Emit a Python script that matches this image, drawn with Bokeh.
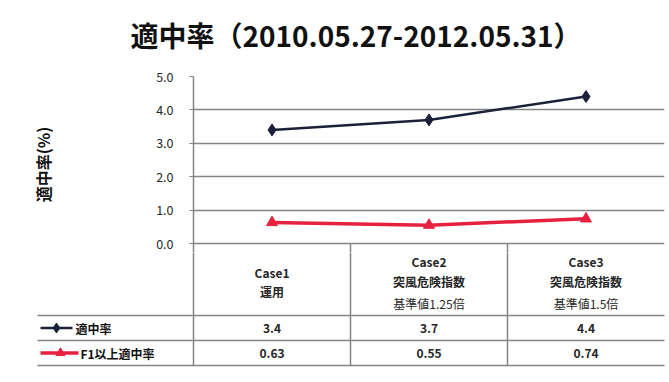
from bokeh.plotting import figure
from bokeh.models import Range1d, FixedTicker, ColumnDataSource
from bokeh.core.properties import value
from bokeh.embed import file_html
from bokeh.resources import INLINE

# ---- data ----
categories = ["Case1", "Case2", "Case3"]
header_line1 = ["Case1", "Case2", "Case3"]
header_line2 = ["運用", "突風危険指数", "突風危険指数"]
header_line3 = ["", "基準値1.25倍", "基準値1.5倍"]
series_names = ["適中率", "F1以上適中率"]
hit_rate = [3.4, 3.7, 4.4]
f1_hit_rate = [0.63, 0.55, 0.74]
y_ticks = [0, 1, 2, 3, 4, 5]
y_tick_labels = ["0.0", "1.0", "2.0", "3.0", "4.0", "5.0"]
title_text = "適中率（2010.05.27-2012.05.31）"
y_label = "適中率(%)"

FONT = "Noto Sans CJK JP"
NAVY = "#1c2038"
RED = "#e5213f"
GRID = "#858585"
TXT = "#262626"

ncat = len(categories)
xc = [i + 0.5 for i in range(ncat)]
px_per_y = 167 / 5.0
px_unit = 157.0
pad = 9         # px of chart below the 0 line
title_h = 56    # px band holding the title
x_full = Range1d(-193 / px_unit, ncat + 5 / px_unit)


def blank(fig):
    fig.outline_line_color = None
    fig.grid.visible = False
    fig.background_fill_color = "white"
    fig.border_fill_color = "white"


# ---- title band ----
tf = figure(width=669, height=title_h, output_backend="svg", toolbar_location=None,
            x_range=x_full, y_range=Range1d(title_h, 0),
            min_border_left=0, min_border_right=0, min_border_top=0, min_border_bottom=0,
            x_axis_location=None, y_axis_location=None)
blank(tf)
tf.text(x=[-63 / px_unit], y=[34], text=[title_text], text_font=value(FONT),
        text_font_size="28px", text_font_style="bold", text_align="left",
        text_baseline="middle", text_color="#111111")

# ---- chart ----
p = figure(width=669, height=243 - title_h + pad, output_backend="svg", toolbar_location=None,
           x_range=Range1d(0, ncat), y_range=Range1d(-pad / px_per_y, 5),
           min_border_left=193, min_border_right=5, min_border_top=76 - title_h,
           min_border_bottom=0, x_axis_location=None)
p.outline_line_color = None
p.background_fill_color = "white"
p.border_fill_color = "white"
p.xgrid.visible = False
p.ygrid.ticker = FixedTicker(ticks=y_ticks)
p.ygrid.grid_line_color = GRID
p.ygrid.grid_line_width = 1.5

ax = p.yaxis[0]
ax.ticker = FixedTicker(ticks=y_ticks)
ax.major_label_overrides = {tv: lbl for tv, lbl in zip(y_ticks, y_tick_labels)}
ax.major_label_text_font = FONT
ax.major_label_text_font_size = "12.5px"
ax.major_label_text_color = TXT
ax.major_label_standoff = 16
ax.major_tick_out = 4
ax.major_tick_in = 0
ax.major_tick_line_color = GRID
ax.minor_tick_line_color = None
ax.axis_line_color = GRID
ax.axis_line_width = 1.5
ax.axis_label = y_label
ax.axis_label_text_font = FONT
ax.axis_label_text_font_size = "16px"
ax.axis_label_text_font_style = "bold"
ax.axis_label_text_color = "#111111"
ax.axis_label_standoff = 98

# start of table column rules inside the chart's bottom pad
p.segment(x0=list(range(1, ncat)), y0=[0] * (ncat - 1), x1=list(range(1, ncat)),
          y1=[-pad / px_per_y] * (ncat - 1), line_color=GRID, line_width=1.5)

p.line(xc, hit_rate, line_color=NAVY, line_width=2.5)
p.scatter(xc, hit_rate, marker="diamond", size=12, fill_color=NAVY, line_color=NAVY)
p.line(xc, f1_hit_rate, line_color=RED, line_width=3.5)
p.scatter(xc, f1_hit_rate, marker="triangle", size=11, fill_color=RED, line_color=RED)

# ---- data table under the chart ----
q = figure(width=669, height=139 - pad, output_backend="svg", toolbar_location=None,
           x_range=x_full, y_range=Range1d(139, pad),
           min_border_left=0, min_border_right=0, min_border_top=0, min_border_bottom=0,
           x_axis_location=None, y_axis_location=None)
blank(q)

row_hdr, row_1, row_2 = 72, 97, 122
left_edge = -156 / px_unit

# table rules
q.segment(x0=[left_edge] * 3, y0=[row_hdr, row_1, row_2],
          x1=[ncat] * 3, y1=[row_hdr, row_1, row_2],
          line_color=GRID, line_width=1.5)
q.segment(x0=list(range(ncat)), y0=[0] * ncat, x1=list(range(ncat)), y1=[row_2] * ncat,
          line_color=GRID, line_width=1.5)

# header text
hdr = ColumnDataSource(dict(x=xc, l1=header_line1, l2=header_line2, l3=header_line3))
one_block = [h == "" for h in header_line3]
hdr.data["y1"] = [29 if ob else 18 for ob in one_block]
hdr.data["y2"] = [48 if ob else 38 for ob in one_block]
hdr.data["y3"] = [60] * ncat
common = dict(text_font=value(FONT), text_font_size="12px", text_align="center",
              text_baseline="middle", text_color=TXT, source=hdr)
q.text(x="x", y="y1", text="l1", text_font_style="bold", **common)
q.text(x="x", y="y2", text="l2", text_font_style="bold", **common)
q.text(x="x", y="y3", text="l3", **common)

# value rows
for vals, yrow in ((hit_rate, (row_hdr + row_1) / 2), (f1_hit_rate, (row_1 + row_2) / 2)):
    q.text(x=xc, y=[yrow] * ncat, text=[str(v) for v in vals],
           text_font=value(FONT), text_font_size="12px", text_font_style="bold",
           text_align="center", text_baseline="middle", text_color=TXT)

# legend keys in the first column
yk1 = (row_hdr + row_1) / 2
yk2 = (row_1 + row_2) / 2
q.line([-153 / px_unit, -121 / px_unit], [yk1, yk1], line_color=NAVY, line_width=2.5)
q.scatter([-137 / px_unit], [yk1], marker="diamond", size=10, fill_color=NAVY, line_color=NAVY)
q.text(x=[-118 / px_unit], y=[yk1], text=[series_names[0]], text_font=value(FONT),
       text_font_size="12px", text_font_style="bold", text_baseline="middle", text_color="#111111")
q.line([-153 / px_unit, -115 / px_unit], [yk2, yk2], line_color=RED, line_width=3.5)
q.scatter([-133 / px_unit], [yk2], marker="triangle", size=9, fill_color=RED, line_color=RED)
q.text(x=[-113 / px_unit], y=[yk2], text=[series_names[1]], text_font=value(FONT),
       text_font_size="12px", text_font_style="bold", text_baseline="middle", text_color="#111111")

open("out.html", "w").write(file_html([tf, p, q], INLINE))
